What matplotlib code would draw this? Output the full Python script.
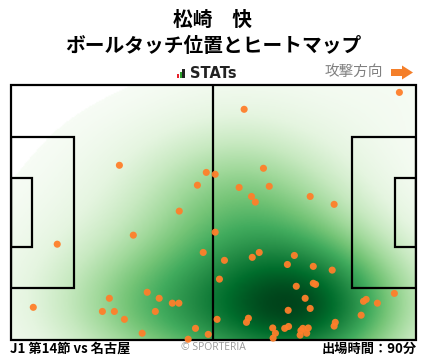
import numpy as np
import matplotlib
matplotlib.use("Agg")
import matplotlib.pyplot as plt
from matplotlib.patches import Rectangle, Polygon

plt.rcParams['font.family'] = ['Noto Sans CJK JP', 'DejaVu Sans']

# Ball touch positions in pitch metres (105 x 68), y measured from the bottom touchline
touch_x = [100.7, 60.5, 28.2, 65.5, 50.7, 53.0, 48.4, 59.2, 67.0, 62.4, 63.4, 77.6, 83.8,
           43.7, 31.8, 53.0, 12.1, 49.9, 64.4, 62.6, 55.4, 73.5, 71.7, 78.4, 83.3, 54.1,
           74.0, 78.4, 79.0, 35.4, 38.5, 25.6, 41.9, 43.6, 5.9, 23.8, 26.9, 37.5, 76.3,
           77.6, 71.9, 29.5, 53.5, 61.6, 61.1, 34.1, 47.9, 51.2, 46.0, 67.9, 68.6, 68.0,
           71.0, 72.0, 75.7, 77.1, 75.2, 76.7, 75.0, 84.1, 83.8, 90.8, 91.4, 92.1, 95.0, 99.4]
touch_y = [65.9, 61.4, 46.5, 45.7, 44.6, 44.1, 41.2, 40.6, 40.9, 38.2, 36.7, 38.2, 36.1,
           34.3, 27.9, 28.7, 25.5, 23.3, 23.3, 22.0, 21.2, 22.5, 20.1, 19.6, 18.6, 16.2,
           14.3, 15.1, 14.8, 12.7, 11.1, 11.1, 9.8, 9.8, 8.7, 7.6, 7.6, 7.6, 11.1,
           8.4, 7.9, 5.5, 5.5, 5.8, 4.7, 1.8, 3.1, 1.5, 0.2, 3.2, 1.8, 0.5,
           3.1, 3.6, 3.1, 3.2, 2.5, 1.8, 1.3, 4.7, 3.7, 6.6, 10.3, 10.8, 9.8, 12.4]

title_name = "松崎　快"
title_sub = "ボールタッチ位置とヒートマップ"
match_label = "J1 第14節 vs 名古屋"
minutes_label = "出場時間：90分"

W, H = 428, 359
fig = plt.figure(figsize=(W / 100, H / 100), dpi=100)
fig.patch.set_facecolor("white")

# overlay in pixel coords (y down) for header / footer decorations
ov = fig.add_axes([0, 0, 1, 1])
ov.set_xlim(0, W)
ov.set_ylim(H, 0)
ov.axis("off")

ov.text(213, 20, title_name, ha="center", va="center", fontsize=14.2, fontweight="bold")
ov.text(213, 46, title_sub, ha="center", va="center", fontsize=14.2, fontweight="bold")

# STATs logo
for x0, x1, top, col in [(177, 179.5, 74, "#e8202a"), (179.8, 182, 72, "#2ca02c"), (182.5, 185, 69, "#222222")]:
    ov.add_patch(Rectangle((x0, top), x1 - x0, 77.5 - top, color=col, lw=0))
ov.text(190, 73.5, "STATs", ha="left", va="center", fontsize=10.5, fontweight="bold",
        family="DejaVu Sans", color="#222222")

# attack direction
ov.text(354, 71.5, "攻撃方向", ha="center", va="center", fontsize=10.5, color="#808080")
ov.add_patch(Polygon([(391, 69), (402, 69), (402, 65.5), (413, 72.5), (402, 79.5), (402, 76), (391, 76)],
                     closed=True, color="#f47f2a", lw=0))

# pitch axes
ax = fig.add_axes([10.5 / W, 1 - 340 / H, (416 - 10.5) / W, (340 - 84.5) / H])
ax.set_xlim(0, 105)
ax.set_ylim(0, 68)
ax.axis("off")

# heatmap (gaussian kde of the touches)
px_ = np.array(touch_x)
py_ = np.array(touch_y)
fac = len(px_) ** (-1 / 6) * 1.6
bx = px_.std(ddof=1) * fac
by = py_.std(ddof=1) * fac
gx, gy = np.meshgrid(np.linspace(0, 105, 300), np.linspace(0, 68, 200))
dens = np.zeros_like(gx)
for x, y in zip(px_, py_):
    dens += np.exp(-0.5 * ((gx - x) / bx) ** 2 - 0.5 * ((gy - y) / by) ** 2)
dens = dens / dens.max()
cmap = plt.get_cmap("Greens").copy()
cmap.set_under("white")
ax.imshow(dens, extent=(0, 105, 0, 68), origin="lower", cmap=cmap, vmin=0.03, vmax=1,
          interpolation="bilinear", aspect="auto", zorder=1)

# pitch lines
lc = "black"
lw = 1.6
ax.add_patch(Rectangle((0, 0), 105, 68, fill=False, ec=lc, lw=lw, zorder=3, clip_on=False))
ax.plot([52.5, 52.5], [0, 68], color=lc, lw=lw, zorder=3)
ax.add_patch(Rectangle((0, 13.84), 16.5, 40.32, fill=False, ec=lc, lw=lw, zorder=3))
ax.add_patch(Rectangle((0, 24.84), 5.5, 18.32, fill=False, ec=lc, lw=lw, zorder=3))
ax.add_patch(Rectangle((105 - 16.5, 13.84), 16.5, 40.32, fill=False, ec=lc, lw=lw, zorder=3))
ax.add_patch(Rectangle((105 - 5.5, 24.84), 5.5, 18.32, fill=False, ec=lc, lw=lw, zorder=3))

ax.scatter(touch_x, touch_y, s=26, color="#ff7f2a", edgecolors="none", alpha=0.95, zorder=4, clip_on=False)

# footer
ov.text(10, 349, match_label, ha="left", va="center", fontsize=9.5, fontweight="bold")
ov.text(213, 348, "© SPORTERIA", ha="center", va="center", fontsize=7.5, color="#999999",
        family=["Open Sans", "DejaVu Sans"])
ov.text(417, 349, minutes_label, ha="right", va="center", fontsize=9.5, fontweight="bold")

fig.savefig("out.png", dpi=100)
